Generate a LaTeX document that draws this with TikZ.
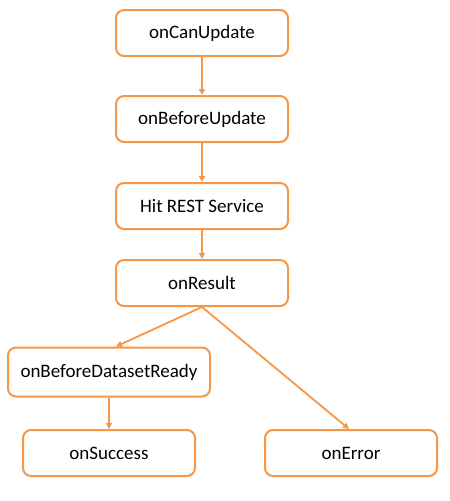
\documentclass[tikz,border=0pt]{standalone}
\usepackage{fontspec}
\setmainfont{Carlito}
\usetikzlibrary{arrows.meta}
\definecolor{hookorange}{RGB}{247,150,70}
\begin{document}
\begin{tikzpicture}[x=1pt,y=-1pt,
    hook/.style={draw=hookorange,line width=2pt,rounded corners=8pt,fill=white,
      minimum width=172pt,minimum height=46pt,inner sep=0pt,
      font=\fontsize{19}{22}\selectfont},
    flow/.style={draw=hookorange,line width=1.8pt,
      -{Triangle[length=6pt,width=6pt]}}]
      \useasboundingbox (0,0) rectangle (450,501);
      \draw
        (202,33) node[hook] (can){onCanUpdate}
        (202,119) node[hook] (before){onBeforeUpdate}
        (202,206) node[hook] (rest){Hit REST Service}
        (202,283) node[hook] (result){onResult}
        (109,372) node[hook,minimum width=202pt,minimum height=49pt] (ready){onBeforeDatasetReady}
        (109,453) node[hook] (success){onSuccess}
        (351,453) node[hook] (error){onError};
      \begin{scope}[flow]
        \draw (can) to (before);
        \draw (before) to (rest);
        \draw (rest) to (result);
        \draw (result.south) to ([xshift=7pt]ready.north);
        \draw (result.south) to ([xshift=-2pt]error.north);
        \draw (ready) to (success);
      \end{scope}
    \end{tikzpicture}
\end{document}
